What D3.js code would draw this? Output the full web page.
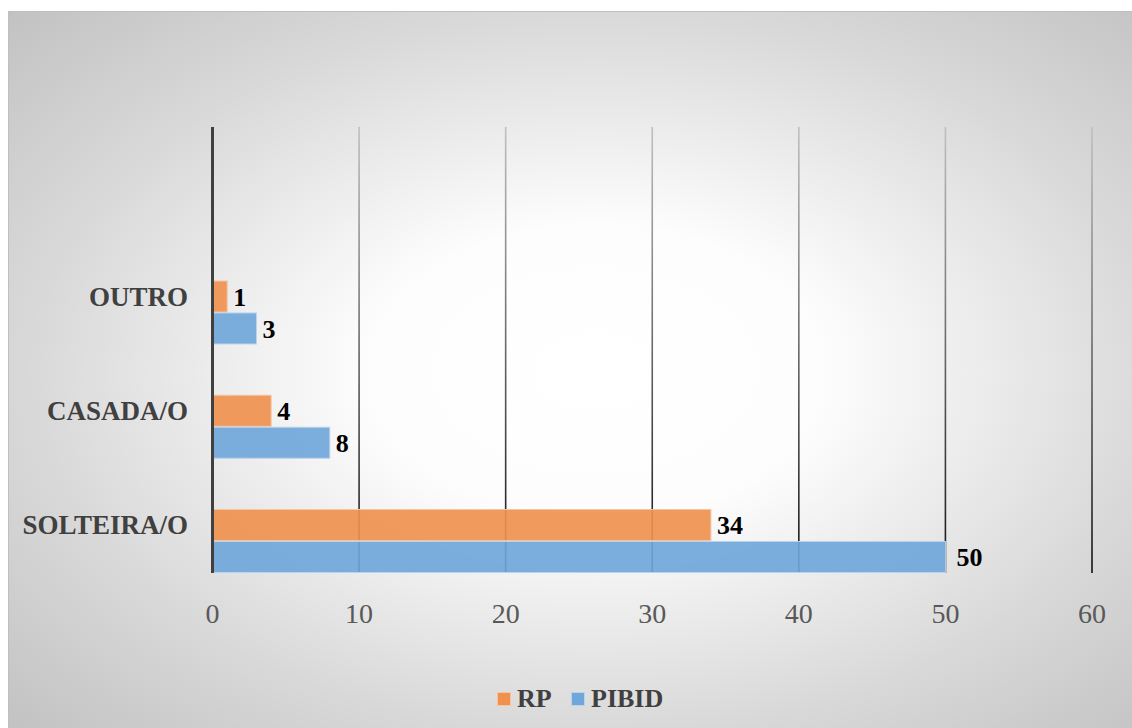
<!DOCTYPE html>
<html><head><meta charset="utf-8">
<script src="https://cdn.jsdelivr.net/npm/d3@7"></script>
<style>html,body{margin:0;padding:0;background:#fff;overflow:hidden}
svg text{font-family:"Liberation Serif","Tinos","Times New Roman","DejaVu Serif",serif;}</style>
</head><body>
<svg id="c" width="1132" height="728"></svg>
<script>
const categories = ["OUTRO", "CASADA/O", "SOLTEIRA/O"];
const seriesNames = ["RP", "PIBID"];
const rpValues = [1, 4, 34];
const pibidValues = [3, 8, 50];
const xTicks = [0, 10, 20, 30, 40, 50, 60];
const colors = {RP: "#F0914F", PIBID: "#70A7DA"};
const strokes = {RP: "#F7C4A0", PIBID: "#B9D4EE"};

const svg = d3.select("#c");
const defs = svg.append("defs");
const bg = defs.append("radialGradient").attr("id","bg")
  .attr("cx","0.52").attr("cy","0.5").attr("r","0.72");
[[0,"#ffffff"],[0.28,"#fdfdfd"],[0.7,"#d8d8d8"],[1,"#c2c2c2"]].forEach(s=>
  bg.append("stop").attr("offset",s[0]).attr("stop-color",s[1]));
const plotTop = 127, plotBottom = 573;
const gg = defs.append("linearGradient").attr("id","grid")
  .attr("gradientUnits","userSpaceOnUse").attr("x1",0).attr("x2",0).attr("y1",plotTop).attr("y2",plotBottom);
[[0,"#c0c0c0"],[1,"#111111"]].forEach(s=>
  gg.append("stop").attr("offset",s[0]).attr("stop-color",s[1]));

svg.append("rect").attr("x",8.5).attr("y",11.5).attr("width",1130).attr("height",720)
  .attr("fill","url(#bg)").attr("stroke","#bfbfbf").attr("stroke-width",1);

const x = d3.scaleLinear().domain([0,60]).range([212.5,1092]);
const y = d3.scalePoint().domain(categories).range([312.5,541]);
const inner = d3.scaleBand().domain(seriesNames).range([-31.5,31.5]).paddingInner(0.03);

// gridlines
svg.append("g").selectAll("line").data(xTicks.filter(t=>t>0)).join("line")
  .attr("x1",d=>x(d)).attr("x2",d=>x(d)).attr("y1",plotTop).attr("y2",plotBottom)
  .attr("stroke","url(#grid)").attr("stroke-width",1.6);

// bars
const rows = categories.map((c,i)=>({cat:c, RP:rpValues[i], PIBID:pibidValues[i]}));
const bars = [];
rows.forEach(r=>seriesNames.forEach(s=>bars.push({cat:r.cat, s, v:r[s]})));
svg.append("g").selectAll("rect").data(bars).join("rect")
  .attr("x",x(0)).attr("y",d=>y(d.cat)+inner(d.s))
  .attr("width",d=>x(d.v)-x(0)).attr("height",inner.bandwidth())
  .attr("fill",d=>colors[d.s]).attr("fill-opacity",0.92)
  .attr("stroke",d=>strokes[d.s]).attr("stroke-width",1);

// axis line at 0
svg.append("line").attr("x1",x(0)).attr("x2",x(0)).attr("y1",plotTop).attr("y2",plotBottom)
  .attr("stroke","#404040").attr("stroke-width",3);

// data labels
svg.append("g").selectAll("text").data(bars).join("text")
  .attr("x",d=>x(d.v)+(d.v>=50?11:6)).attr("y",d=>y(d.cat)+inner(d.s)+inner.bandwidth()/2)
  .attr("dy","0.35em")
  .attr("font-weight","bold").attr("font-size",26).attr("fill","#000")
  .text(d=>d.v);

// category labels
svg.append("g").selectAll("text").data(categories).join("text")
  .attr("x",188).attr("y",d=>y(d)+inner("RP")+inner.bandwidth()/2)
  .attr("dy","0.35em").attr("text-anchor","end")
  .attr("font-weight","bold").attr("font-size",27).attr("fill","#404040")
  .text(d=>d);

// x tick labels
svg.append("g").selectAll("text").data(xTicks).join("text")
  .attr("x",d=>x(d)).attr("y",623).attr("text-anchor","middle")
  .attr("font-size",28).attr("fill","#595959")
  .text(d=>d);

// legend
const legend = svg.append("g");
const legItems = [{s:"RP", x:497},{s:"PIBID", x:571}];
legItems.forEach(it=>{
  legend.append("rect").attr("x",it.x+0.5).attr("y",692.5).attr("width",13).attr("height",13)
    .attr("fill",colors[it.s]).attr("stroke",strokes[it.s]).attr("stroke-width",1);
  legend.append("text").attr("x",it.x+20).attr("y",707)
    .attr("font-weight","bold").attr("font-size",26).attr("fill","#404040")
    .text(it.s);
});
</script>
</body></html>
